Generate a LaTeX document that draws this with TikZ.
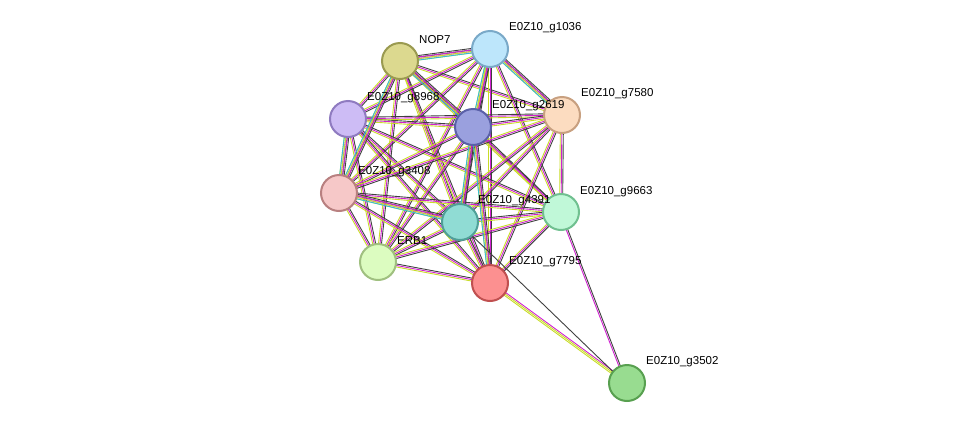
\documentclass[tikz,border=0pt]{standalone}
\usepackage{fontspec}
\setmainfont{Liberation Sans}
\usetikzlibrary{calc}
\definecolor{yg}{HTML}{C8DC28}
\definecolor{mg}{HTML}{D020D0}
\definecolor{cy}{HTML}{30C0D8}
\definecolor{bk}{HTML}{404040}
\newcommand\lnk[3]{\foreach \c [count=\i] in {#3} {\draw[\c, line width=0.9pt] ($(#1)!{(\i-2)*1.5pt}!90:(#2)$) -- ($(#2)!{(\i-2)*1.5pt}!-90:(#1)$);}}
\begin{document}
\begin{tikzpicture}[x=1pt,y=-1pt,
  prot/.style={circle,minimum size=36pt,inner sep=0pt,line width=2pt},
  lab/.style={anchor=west,font=\fontsize{11.5}{13}\selectfont,inner sep=0pt}]
\useasboundingbox (0,0) rectangle (975,429);
\coordinate (a) at (400,61); \coordinate (b) at (490,49); \coordinate (c) at (348,119);
\coordinate (d) at (473,127); \coordinate (e) at (562,115); \coordinate (f) at (339,193);
\coordinate (g) at (460,222); \coordinate (h) at (561,212); \coordinate (i) at (378,262);
\coordinate (j) at (490,283); \coordinate (k) at (627,383);
\foreach \p/\q in {a/b,a/c,a/d,a/e,a/f,a/g,a/h,a/i,a/j,b/c,b/d,b/e,b/f,b/g,b/h,b/i,b/j,c/d,c/e,c/f,c/g,c/h,c/i,c/j,d/e,d/f,d/g,d/h,d/i,d/j,e/f,e/g,e/h,e/i,e/j,f/g,f/h,f/i,f/j,g/h,g/i,g/j,h/i,h/j,i/j}
  {\lnk{\p}{\q}{yg,mg,bk}}
\foreach \p/\q in {a/b,a/d,b/d,c/f,d/g,d/j,b/e,f/g,a/f}
  {\lnk{\p}{\q}{cy,yg,mg,bk}}
\lnk{h}{k}{mg,bk}
\lnk{j}{k}{yg,yg,mg}
\lnk{g}{k}{bk}
\node[prot,fill={rgb,255:red,220;green,217;blue,143},draw={rgb,255:red,154;green,154;blue,80}] (na) at (a) {};
\node[prot,fill={rgb,255:red,189;green,230;blue,251},draw={rgb,255:red,122;green,169;blue,200}] (nb) at (b) {};
\node[prot,fill={rgb,255:red,205;green,188;blue,245},draw={rgb,255:red,143;green,123;blue,192}] (nc) at (c) {};
\node[prot,fill={rgb,255:red,154;green,160;blue,222},draw={rgb,255:red,90;green,96;blue,168}] (nd) at (d) {};
\node[prot,fill={rgb,255:red,252;green,220;blue,192},draw={rgb,255:red,200;green,160;blue,128}] (ne) at (e) {};
\node[prot,fill={rgb,255:red,246;green,200;blue,200},draw={rgb,255:red,184;green,128;blue,128}] (nf) at (f) {};
\node[prot,fill={rgb,255:red,144;green,220;blue,212},draw={rgb,255:red,80;green,160;blue,152}] (ng) at (g) {};
\node[prot,fill={rgb,255:red,192;green,248;blue,216},draw={rgb,255:red,112;green,192;blue,144}] (nh) at (h) {};
\node[prot,fill={rgb,255:red,220;green,252;blue,192},draw={rgb,255:red,160;green,192;blue,128}] (ni) at (i) {};
\node[prot,fill={rgb,255:red,252;green,144;blue,144},draw={rgb,255:red,192;green,80;blue,80}] (nj) at (j) {};
\node[prot,fill={rgb,255:red,152;green,220;blue,144},draw={rgb,255:red,88;green,160;blue,80}] (nk) at (k) {};
\node[lab] (la) at (419,40) {NOP7};
\node[lab] (lb) at (509,28) {E0Z10\_g1036};
\node[lab] (lc) at (367,98) {E0Z10\_g8968};
\node[lab] (ld) at (492,106) {E0Z10\_g2619};
\node[lab] (le) at (581,94) {E0Z10\_g7580};
\node[lab] (lf) at (358,172) {E0Z10\_g3408};
\node[lab] (lg) at (478,201) {E0Z10\_g4391};
\node[lab] (lh) at (580,192) {E0Z10\_g9663};
\node[lab] (li) at (397,241) {ERB1};
\node[lab] (lj) at (509,262) {E0Z10\_g7795};
\node[lab] (lk) at (646,362) {E0Z10\_g3502};
\end{tikzpicture}
\end{document}
